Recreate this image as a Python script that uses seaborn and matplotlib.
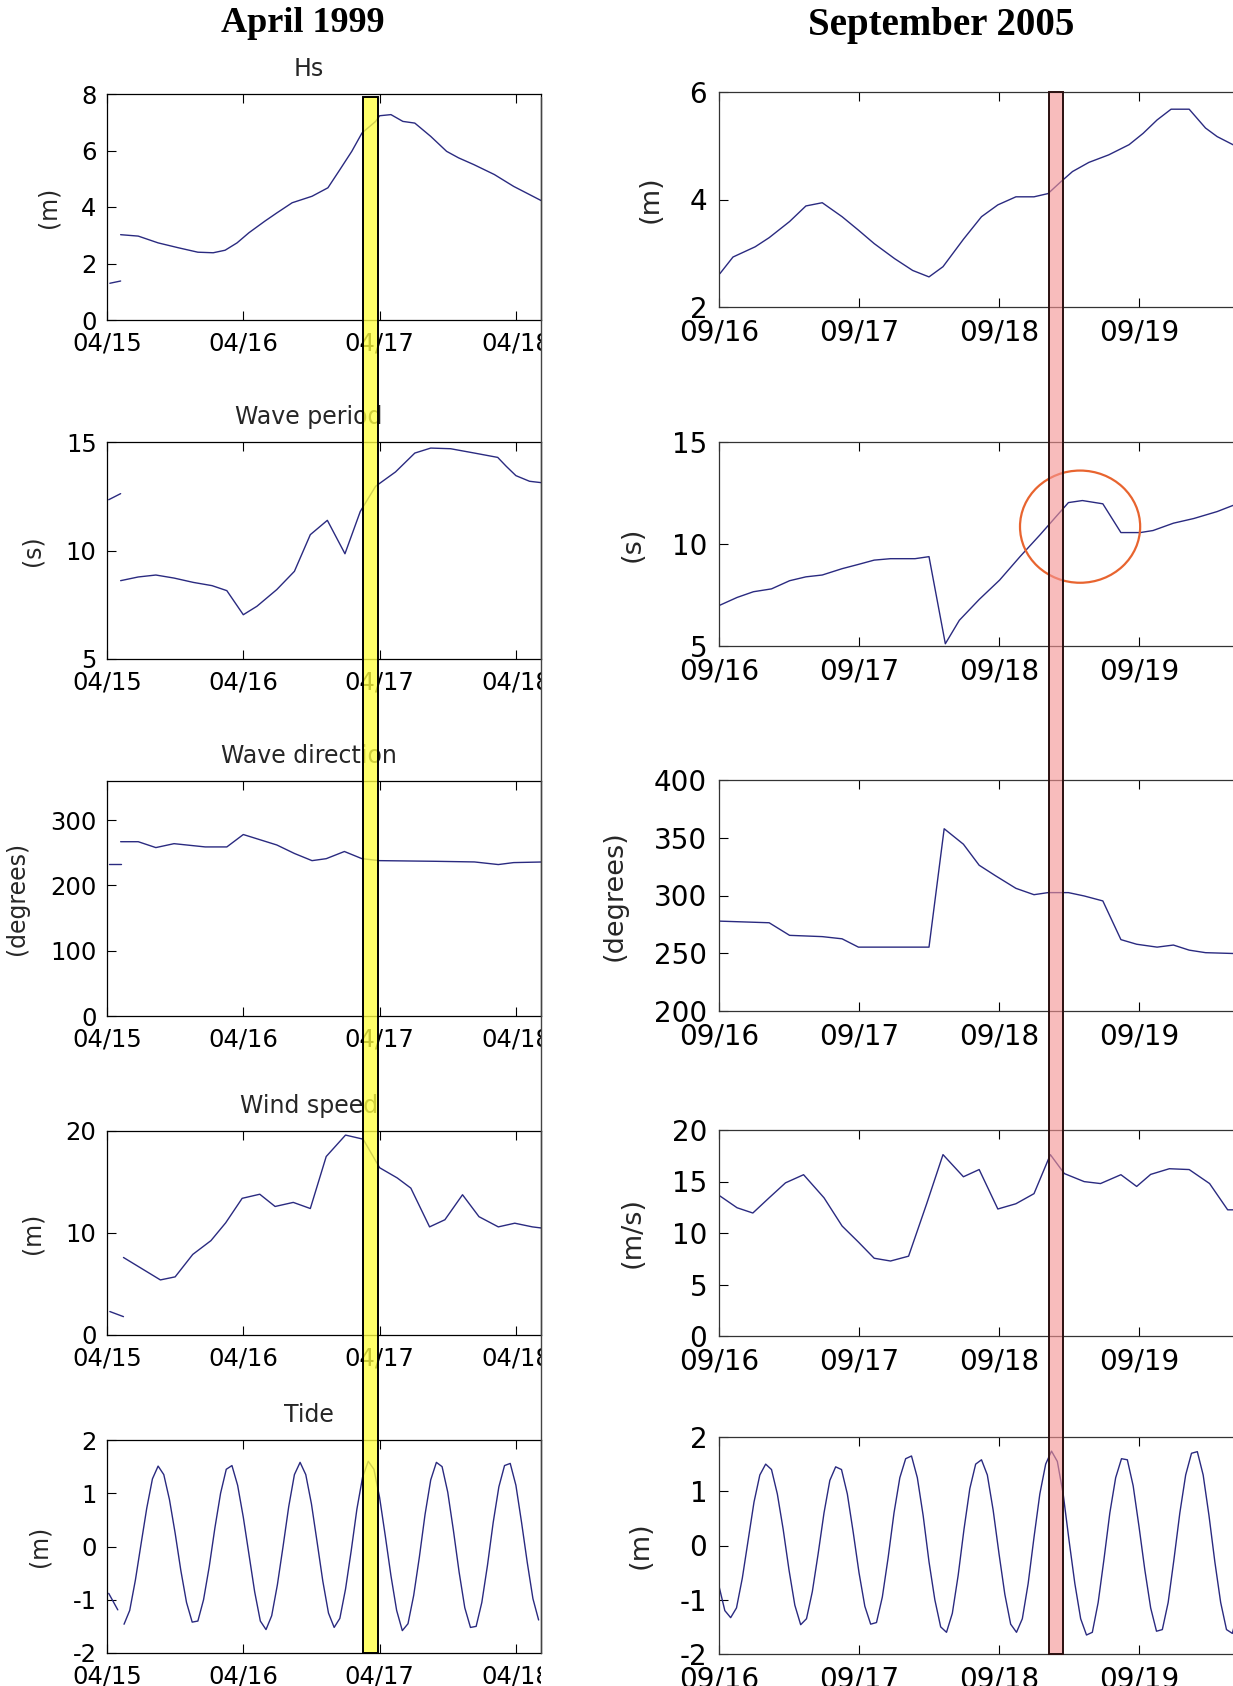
import numpy as np
import pandas as pd
import matplotlib
matplotlib.use("Agg")
import matplotlib.pyplot as plt
import matplotlib.dates as mdates
import seaborn as sns
from matplotlib.patches import Rectangle, Ellipse
from matplotlib.lines import Line2D
from matplotlib.transforms import Bbox, TransformedBbox, blended_transform_factory

# ---------------------------------------------------------------- data
# Times are hours after midnight of the first day of each storm window.
START_1999 = "1999-04-15"
START_2005 = "2005-09-16"

# April 1999
hs99_t = [2.4, 5.5, 9.0, 12.5, 16.0, 18.7, 20.8, 22.9, 25.0, 27.8, 29.9, 32.6, 36.1,
          38.9, 41.0, 43.1, 44.9, 47.3, 48.0, 50.0, 52.1, 54.2, 57.0, 59.8, 61.9,
          64.6, 68.2, 71.6, 74.4, 77.0]
hs99_v = [3.02, 2.97, 2.73, 2.56, 2.40, 2.38, 2.47, 2.73, 3.09, 3.50, 3.79, 4.15, 4.38,
          4.68, 5.32, 5.97, 6.62, 7.03, 7.23, 7.27, 7.03, 6.97, 6.50, 5.97, 5.74,
          5.50, 5.15, 4.73, 4.44, 4.17]
hs99_stub_t = [0.5, 2.4]
hs99_stub_v = [1.30, 1.38]

tp99_t = [2.4, 5.5, 8.6, 11.8, 15.2, 18.5, 21.1, 24.0, 26.4, 29.9, 33.0, 35.8, 38.8,
          41.9, 44.6, 47.3, 50.8, 54.2, 57.0, 60.5, 64.7, 68.8, 70.3, 72.0, 74.4, 77.0]
tp99_v = [8.61, 8.78, 8.87, 8.73, 8.53, 8.38, 8.15, 7.04, 7.43, 8.20, 9.04, 10.73, 11.39,
          9.85, 11.80, 12.96, 13.62, 14.49, 14.72, 14.69, 14.49, 14.29, 13.88, 13.45,
          13.19, 13.11]
tp99_stub_t = [0.3, 2.4]
tp99_stub_v = [12.34, 12.62]

dir99_t = [2.4, 5.5, 8.6, 11.8, 17.3, 21.1, 24.0, 29.9, 33.0, 36.1, 38.6, 41.8, 44.9,
           48.0, 57.7, 64.7, 68.9, 71.6, 77.0]
dir99_v = [267, 267, 258, 264, 259, 259, 278, 262, 249, 238, 241, 252, 241,
           238, 237, 236, 232, 235, 236]
dir99_stub_t = [0.3, 2.4]
dir99_stub_v = [233, 233]

ws99_t = [2.9, 9.4, 12.0, 15.1, 18.3, 20.9, 23.8, 26.9, 29.6, 32.8, 35.8, 38.6, 42.0,
          45.1, 48.0, 51.1, 53.5, 56.8, 59.5, 62.6, 65.5, 68.9, 71.8, 74.9, 77.8]
ws99_v = [7.6, 5.4, 5.7, 7.9, 9.25, 11.0, 13.4, 13.8, 12.6, 13.0, 12.4, 17.5, 19.6,
          19.2, 16.4, 15.4, 14.4, 10.6, 11.3, 13.75, 11.6, 10.6, 10.96, 10.6, 10.4]
ws99_stub_t = [0.5, 2.9]
ws99_stub_v = [2.3, 1.8]

tide99_t0 = 3.0   # hourly samples from this hour on
tide99_v = [-1.46, -1.2, -0.63, 0.05, 0.72, 1.27, 1.51, 1.35, 0.88, 0.25, -0.45, -1.05,
            -1.42, -1.4, -1.0, -0.38, 0.35, 1.0, 1.45, 1.52, 1.15, 0.55, -0.15, -0.85,
            -1.4, -1.56, -1.3, -0.72, 0.0, 0.75, 1.35, 1.58, 1.35, 0.8, 0.08, -0.65,
            -1.25, -1.52, -1.35, -0.8, -0.08, 0.7, 1.3, 1.6, 1.45, 0.92, 0.2, -0.55,
            -1.2, -1.58, -1.45, -0.92, -0.2, 0.6, 1.25, 1.58, 1.5, 1.02, 0.3, -0.48,
            -1.15, -1.52, -1.5, -1.05, -0.35, 0.45, 1.12, 1.52, 1.56, 1.15, 0.45, -0.3,
            -0.98, -1.38]
tide99_stub_t = [0.3, 1.9]
tide99_stub_v = [-0.88, -1.19]

# September 2005
hs05_t = [0.15, 2.4, 6.2, 8.6, 12.1, 14.9, 17.7, 21.1, 23.9, 26.6, 30.1, 33.2, 36.0,
          38.4, 41.9, 45.0, 47.8, 50.9, 54.0, 56.4, 58.6, 60.6, 63.4, 66.8, 70.3,
          72.7, 75.1, 77.5, 80.6, 83.4, 85.4, 88.1, 91.2]
hs05_v = [2.62, 2.93, 3.12, 3.29, 3.59, 3.88, 3.94, 3.68, 3.43, 3.18, 2.90, 2.68, 2.56,
          2.75, 3.26, 3.68, 3.90, 4.05, 4.05, 4.11, 4.33, 4.52, 4.69, 4.83, 5.02,
          5.23, 5.48, 5.68, 5.68, 5.33, 5.17, 5.02, 4.85]

tp05_t = [0.15, 3.1, 5.9, 9.0, 12.1, 14.9, 17.7, 21.1, 23.9, 26.6, 29.4, 33.6, 36.0,
          38.8, 41.2, 44.6, 48.1, 51.6, 55.0, 59.9, 62.3, 65.8, 68.9, 72.2, 74.4,
          77.9, 81.4, 85.4, 88.1, 91.2]
tp05_v = [7.0, 7.38, 7.66, 7.8, 8.2, 8.39, 8.48, 8.79, 9.0, 9.21, 9.28, 9.28, 9.38,
          5.11, 6.26, 7.28, 8.23, 9.38, 10.44, 12.03, 12.13, 11.97, 10.56, 10.56, 10.66,
          11.02, 11.25, 11.59, 11.89, 12.1]

dir05_t = [0.15, 8.6, 12.1, 17.7, 21.1, 23.9, 36.0, 38.6, 41.9, 44.6, 47.4, 50.9, 54.0,
           56.4, 59.9, 62.6, 65.8, 68.9, 71.6, 75.1, 77.9, 80.6, 83.4, 88.1, 91.2]
dir05_v = [277.8, 276.4, 265.5, 264.4, 262.5, 255.3, 255.3, 357.8, 344.4, 326.2, 317.1,
           306.2, 300.7, 302.5, 302.5, 299.6, 295.3, 261.8, 257.8, 255.3, 257.1, 252.7,
           250.5, 249.8, 249.0]

ws05_t = [0.15, 3.1, 5.8, 8.6, 11.4, 14.5, 18.0, 21.1, 23.9, 26.6, 29.4, 32.5, 35.6,
          38.4, 41.9, 44.6, 47.8, 50.9, 54.0, 56.8, 59.2, 62.6, 65.4, 68.9, 71.6, 74.0,
          77.2, 80.6, 84.1, 87.2, 88.1, 91.2]
ws05_v = [13.6, 12.45, 11.94, 13.42, 14.87, 15.66, 13.42, 10.68, 9.12, 7.55, 7.28, 7.75,
          12.84, 17.61, 15.46, 16.16, 12.33, 12.84, 13.82, 17.61, 15.77, 14.99, 14.8,
          15.66, 14.52, 15.69, 16.24, 16.16, 14.8, 12.25, 12.25, 12.6]

tide05_t0 = 0.0
tide05_v = [-0.75, -1.2, -1.33, -1.15, -0.6, 0.1, 0.8, 1.3, 1.5, 1.4, 0.95, 0.3, -0.45,
            -1.1, -1.46, -1.35, -0.85, -0.15, 0.6, 1.2, 1.45, 1.4, 0.95, 0.25, -0.5,
            -1.12, -1.45, -1.42, -0.95, -0.22, 0.6, 1.25, 1.6, 1.65, 1.25, 0.55, -0.3,
            -1.0, -1.5, -1.6, -1.25, -0.55, 0.3, 1.05, 1.5, 1.58, 1.3, 0.65, -0.15,
            -0.9, -1.45, -1.6, -1.35, -0.7, 0.15, 0.95, 1.5, 1.74, 1.55, 0.95, 0.1,
            -0.7, -1.35, -1.65, -1.6, -1.05, -0.25, 0.6, 1.25, 1.6, 1.58, 1.1, 0.35,
            -0.45, -1.15, -1.58, -1.55, -1.05, -0.25, 0.6, 1.3, 1.7, 1.73, 1.3, 0.55,
            -0.3, -1.05, -1.55, -1.62, -1.2, -0.45, 0.4, 1.1]

# highlighted storm peak windows (hours after start) and the marked period bump
peak99 = (45.05, 47.65)
peak05 = (56.57, 58.92)
bump05_center = (61.9, 10.85)   # hours, seconds
bump05_size = (20.6, 5.5)       # hours, seconds

# ---------------------------------------------------------------- style
sns.set_theme(style="white", rc={"axes.edgecolor": "black", "axes.linewidth": 0.9})
plt.rcParams["font.family"] = ["DejaVu Sans"]
plt.rcParams["axes.unicode_minus"] = False
LINE = "#2a2a80"

W, H = 1233, 1686
fig = plt.figure(figsize=(W / 100, H / 100), dpi=100)
fig.patch.set_facecolor("white")


def axes_px(x0, x1, top, bottom):
    return fig.add_axes([x0 / W, 1 - bottom / H, (x1 - x0) / W, (bottom - top) / H])


def times(start, hours):
    return pd.Timestamp(start) + pd.to_timedelta(np.asarray(hours, dtype=float), unit="h")


def hourly(t0, vals):
    return [t0 + i for i in range(len(vals))]


def trace(ax, start, t, v):
    sns.lineplot(x=times(start, t), y=v, ax=ax, color=LINE, linewidth=1.0,
                 estimator=None, sort=False, legend=False)


def style(ax, start, xlim_days, ylim, yticks, fs, ylabel, lpad, right_col):
    s = mdates.date2num(pd.Timestamp(start))
    ax.set_xlim(s + xlim_days[0], s + xlim_days[1])
    ax.set_ylim(*ylim)
    ax.set_yticks(yticks)
    ax.xaxis.set_major_locator(mdates.DayLocator())
    ax.xaxis.set_major_formatter(mdates.DateFormatter("%m/%d"))
    ax.tick_params(axis="both", direction="in", length=6.5, width=0.8, colors="black",
                   labelsize=fs, top=True, bottom=True, left=True, right=False)
    ax.tick_params(axis="x", pad=8)
    ax.tick_params(axis="y", pad=7.5 if not right_col else 8.5)
    ax.set_xlabel("")
    ax.set_ylabel(ylabel, fontsize=fs - 0.5, labelpad=lpad)
    ax.grid(False)
    ax.set_facecolor("white")
    for sp in ax.spines.values():
        sp.set_color("black" if not right_col else "#333333")
        sp.set_linewidth(0.9)


# ---------------------------------------------------------------- left column: April 1999
LX0, LX1 = 107, 540.5
left_rows = [(94, 320), (442, 659), (781, 1016), (1131, 1335), (1440, 1653)]
axL = [axes_px(LX0, LX1, t, b) for t, b in left_rows]
xl = (0.0, (LX1 - LX0) / 136.3)

trace(axL[0], START_1999, hs99_t, hs99_v)
trace(axL[0], START_1999, hs99_stub_t, hs99_stub_v)
trace(axL[1], START_1999, tp99_t, tp99_v)
trace(axL[1], START_1999, tp99_stub_t, tp99_stub_v)
trace(axL[2], START_1999, dir99_t, dir99_v)
trace(axL[2], START_1999, dir99_stub_t, dir99_stub_v)
trace(axL[3], START_1999, ws99_t, ws99_v)
trace(axL[3], START_1999, ws99_stub_t, ws99_stub_v)
trace(axL[4], START_1999, hourly(tide99_t0, tide99_v), tide99_v)
trace(axL[4], START_1999, tide99_stub_t, tide99_stub_v)

FSL = 17.5
style(axL[0], START_1999, xl, (0, 8), [0, 2, 4, 6, 8], FSL, "(m)", 15, False)
style(axL[1], START_1999, xl, (5, 15), [5, 10, 15], FSL, "(s)", 15, False)
style(axL[2], START_1999, xl, (0, 360), [0, 100, 200, 300], FSL, "(degrees)", 15, False)
style(axL[3], START_1999, xl, (0, 20), [0, 10, 20], FSL, "(m)", 15, False)
style(axL[4], START_1999, xl, (-2, 2), [-2, -1, 0, 1, 2], FSL, "(m)", 15, False)

for ax, name in zip(axL, ["Hs", "Wave period", "Wave direction", "Wind speed", "Tide"]):
    ax.set_title(name, fontsize=17, pad=13, x=(309 - LX0) / (LX1 - LX0))

# ---------------------------------------------------------------- right column: September 2005
RX0, RX1 = 719, 1300
right_rows = [(92, 307), (442, 646), (780, 1011), (1130, 1336), (1437, 1654)]
axR = [axes_px(RX0, RX1, t, b) for t, b in right_rows]
xr = (0.0, (RX1 - RX0) / 140.0)

trace(axR[0], START_2005, hs05_t, hs05_v)
trace(axR[1], START_2005, tp05_t, tp05_v)
trace(axR[2], START_2005, dir05_t, dir05_v)
trace(axR[3], START_2005, ws05_t, ws05_v)
trace(axR[4], START_2005, hourly(tide05_t0, tide05_v), tide05_v)

FSR = 20
style(axR[0], START_2005, xr, (2, 6), [2, 4, 6], FSR, "(m)", 19, True)
style(axR[1], START_2005, xr, (5, 15), [5, 10, 15], FSR, "(s)", 19, True)
style(axR[2], START_2005, xr, (200, 400), [200, 250, 300, 350, 400], FSR, "(degrees)", 19, True)
style(axR[3], START_2005, xr, (0, 20), [0, 5, 10, 15, 20], FSR, "(m/s)", 19, True)
style(axR[4], START_2005, xr, (-2, 2), [-2, -1, 0, 1, 2], FSR, "(m)", 19, True)

# circled period bump
s05 = mdates.date2num(pd.Timestamp(START_2005))
axR[1].add_patch(Ellipse((s05 + bump05_center[0] / 24, bump05_center[1]),
                         width=bump05_size[0] / 24, height=bump05_size[1],
                         fill=False, edgecolor="#e8642f", linewidth=1.6, zorder=6))

# ---------------------------------------------------------------- column headings
fig.text(303 / W, 1 - 24 / H, "April 1999", ha="center", va="center",
         fontfamily="Liberation Serif", fontweight="bold", fontsize=26, color="black")
fig.text(941 / W, 1 - 25 / H, "September 2005", ha="center", va="center",
         fontfamily="Liberation Serif", fontweight="bold", fontsize=28, color="black")

# ---------------------------------------------------------------- storm-peak bands across each column
s99 = mdates.date2num(pd.Timestamp(START_1999))
tr99 = blended_transform_factory(axL[0].transData, fig.transFigure)
fig.add_artist(Rectangle((s99 + peak99[0] / 24, 1 - 1653 / H), (peak99[1] - peak99[0]) / 24,
                         (1653 - 97) / H, transform=tr99,
                         facecolor=(1.0, 1.0, 0.25, 0.78), edgecolor="black",
                         linewidth=1.4, zorder=10))
tr05 = blended_transform_factory(axR[0].transData, fig.transFigure)
fig.add_artist(Rectangle((s05 + peak05[0] / 24, 1 - 1654 / H), (peak05[1] - peak05[0]) / 24,
                         (1654 - 92) / H, transform=tr05,
                         facecolor=(0.96, 0.58, 0.58, 0.62), edgecolor="#2a1010",
                         linewidth=1.4, zorder=10))

# border line closing the left column
fig.add_artist(Line2D([LX1 / W, LX1 / W], [1 - 97 / H, 1 - 1653 / H],
                      transform=fig.transFigure, color="#444444", linewidth=1.0, zorder=9))

# clip left-column date labels at the column border
fig.canvas.draw()
clip = TransformedBbox(Bbox.from_extents(0, 0, (LX1 + 0.5) / W, 1), fig.transFigure)
for ax in axL:
    for tick in ax.xaxis.get_major_ticks():
        tick.label1.set_clip_box(clip)
        tick.label1.set_clip_on(True)

fig.savefig("out.png", dpi=100, facecolor="white")
